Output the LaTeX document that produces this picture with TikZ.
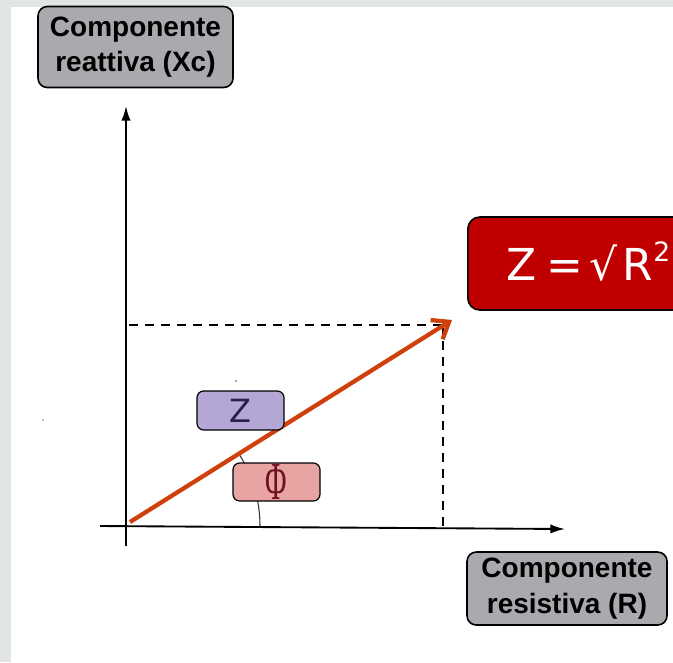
\documentclass[tikz,border=0pt]{standalone}
\usepackage{fontspec}
\setmainfont{Liberation Sans}
\newfontfamily\roundfont{DejaVu Sans}
\newfontfamily\greekfont{Liberation Serif}
\usetikzlibrary{arrows.meta}

\definecolor{pagegray}{HTML}{E1E6E2}
\definecolor{labelgray}{HTML}{A9AAAE}
\definecolor{formulared}{HTML}{C00000}
\definecolor{vecred}{HTML}{D0400C}
\definecolor{zpurple}{HTML}{B4A7D6}
\definecolor{zink}{HTML}{2A2050}
\definecolor{phipink}{HTML}{E8A3A3}
\definecolor{phiink}{HTML}{6E1020}

\tikzset{
  axislabel/.style={draw=black, line width=1.2pt, fill=labelgray, rounded corners=7pt,
    align=center, inner sep=0pt,
    font=\bfseries\fontsize{21}{26.5}\selectfont},
  tagbox/.style={draw=black, line width=0.9pt, rounded corners=5pt, inner sep=0pt},
  axis/.style={line width=1.4pt, -{Latex[length=11pt,width=7pt]}},
  guide/.style={line width=1pt, dash pattern=on 7pt off 5pt},
  vector/.style={vecred, line width=3.2pt, -{Straight Barb[length=11pt,width=17pt,line width=3.2pt]}},
}

\begin{document}
\begin{tikzpicture}[x=0.75pt, y=-0.75pt]
  \useasboundingbox (0,0) rectangle (673,662);
  \clip (0,0) rectangle (673,662);
  % page background and white sheet
  \fill[pagegray] (0,0) rectangle (673,662);
  \fill[white] (11,7) rectangle (673,662);

  % axis label boxes
  \node[axislabel, minimum width=195*0.75pt, minimum height=81*0.75pt] (ylab) at (135.5,47)
    {Componente\\reattiva (Xc)};
  \node[axislabel, minimum width=200*0.75pt, minimum height=73*0.75pt] (xlab) at (567,588.5)
    {Componente\\resistiva (R)};

  % formula box running off the right edge
  \node[draw=black, line width=1.2pt, fill=formulared, rounded corners=9pt,
        minimum width=260*0.75pt, minimum height=93*0.75pt, anchor=west,
        inner sep=0pt] (formula) at (467,263.5) {};
  \node[anchor=base west, text=white, inner sep=0pt,
        font=\roundfont\fontsize{33}{40}\selectfont] (formulatext) at (506,280)
    {Z\hspace{0.22em}=\hspace{0.15em}√\hspace{0.12em}R\raisebox{0.42em}{\fontsize{20}{24}\selectfont 2}};

  % axes
  \coordinate (O) at (126,526);
  \coordinate (ybot) at (126,546);
  \coordinate (ytop) at (126,106);
  \coordinate (xleft) at (100,526);
  \coordinate (xright) at (565,529);
  \draw[axis] (ybot) -- (ytop);
  \draw[axis] (xleft) -- (xright);

  % projection guides
  \coordinate (P) at (443,325);
  \coordinate (Py) at (129,325);
  \coordinate (Px) at (443,527);
  \draw[guide] (Py) -- (P);
  \draw[guide] (P) -- (Px);

  % angle arc between R axis and impedance vector
  \draw[line width=0.8pt, black!80] (260,526) arc[start angle=0, end angle=32, radius=134*0.75pt];

  % impedance vector
  \coordinate (vstart) at (130,522);
  \coordinate (vtip) at (452,320);
  \draw[vector] (vstart) -- (vtip);

  % vector and angle tags
  \node[tagbox, fill=zpurple, minimum width=87*0.75pt, minimum height=39*0.75pt,
        text=zink, font=\roundfont\fontsize{24}{28}\selectfont] (ztag) at (240.5,410.5) {Z};
  \node[tagbox, fill=phipink, minimum width=87*0.75pt, minimum height=38*0.75pt,
        text=phiink, font=\greekfont\fontsize{40}{44}\selectfont] (phitag) at (276.5,482)
    {\scalebox{0.55}[1]{Φ}};

  % specks
  \fill[black!70] (236,381) circle (0.9);
  \fill[black!50] (43,420) circle (0.9);
\end{tikzpicture}
\end{document}
